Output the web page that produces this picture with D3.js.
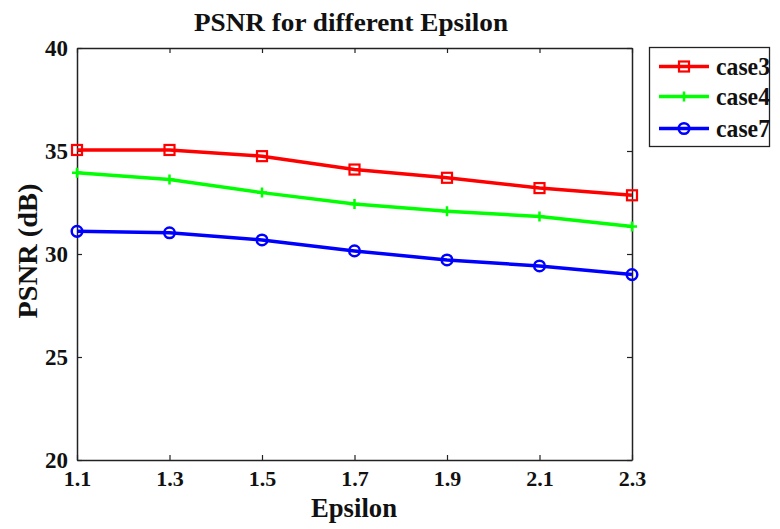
<!DOCTYPE html>
<html>
<head>
<meta charset="utf-8">
<script src="https://cdn.jsdelivr.net/npm/d3@7"></script>
<style>
  body { margin: 0; background: #fff; }
  text { font-family: "Liberation Serif", "Times New Roman", serif; font-weight: bold; fill: #111; }
</style>
</head>
<body>
<script>
// data
var epsilon = [1.1, 1.3, 1.5, 1.7, 1.9, 2.1, 2.3];
var case3 = [35.05, 35.05, 34.75, 34.1, 33.7, 33.2, 32.85];
var case4 = [33.95, 33.62, 32.98, 32.43, 32.08, 31.82, 31.33];
var case7 = [31.1, 31.03, 30.68, 30.15, 29.71, 29.42, 29.0];
var xTicks = [1.1, 1.3, 1.5, 1.7, 1.9, 2.1, 2.3];
var yTicks = [20, 25, 30, 35, 40];
var seriesNames = ["case3", "case4", "case7"];
var seriesColors = ["#ff0000", "#00ff00", "#0000ff"];
var seriesMarkers = ["square", "plus", "circle"];

var W = 780, H = 529;
var plotL = 77, plotR = 632, plotT = 48, plotB = 460;

var svg = d3.select("body").append("svg")
    .attr("width", W)
    .attr("height", H);

var x = d3.scaleLinear().domain([1.1, 2.3]).range([plotL, plotR]);
var y = d3.scaleLinear().domain([20, 40]).range([plotB, plotT]);

function styleAxis(g){
    g.select(".domain").attr("stroke", "#222").attr("stroke-width", 1.5);
    g.selectAll("line").attr("stroke", "#222").attr("stroke-width", 1.2);
}

// box + inside ticks (matlab style, mirrored)
svg.append("g")
    .attr("transform", "translate(0," + plotB + ")")
    .call(d3.axisBottom(x).tickValues(xTicks).tickSizeInner(-5).tickSizeOuter(0).tickPadding(10).tickFormat(d3.format(".1f")))
    .call(styleAxis)
    .call(function(g){ g.selectAll("text").style("font-size", "22px").attr("fill", "#111"); });
svg.append("g")
    .attr("transform", "translate(0," + plotT + ")")
    .call(d3.axisTop(x).tickValues(xTicks).tickSizeInner(-5).tickSizeOuter(0).tickFormat(""))
    .call(styleAxis);
svg.append("g")
    .attr("transform", "translate(" + plotL + ",0)")
    .call(d3.axisLeft(y).tickValues(yTicks).tickSizeInner(-5).tickSizeOuter(0).tickPadding(9))
    .call(styleAxis)
    .call(function(g){ g.selectAll("text").style("font-size", "23px").attr("fill", "#111"); });
svg.append("g")
    .attr("transform", "translate(" + plotR + ",0)")
    .call(d3.axisRight(y).tickValues(yTicks).tickSizeInner(-5).tickSizeOuter(0).tickFormat(""))
    .call(styleAxis);

function drawMarker(g, type, color){
    if(type == "square"){
        g.append("rect").attr("x", -5).attr("y", -5).attr("width", 10).attr("height", 10)
            .attr("fill", "none").attr("stroke", color).attr("stroke-width", 2.2);
    } else if(type == "plus"){
        g.append("path").attr("d", "M-5,0H5M0,-5V5")
            .attr("stroke", color).attr("stroke-width", 2.5);
    } else {
        g.append("circle").attr("r", 5.3)
            .attr("fill", "none").attr("stroke", color).attr("stroke-width", 2.5);
    }
}

var line = d3.line()
    .x(function(d){ return x(d[0]); })
    .y(function(d){ return y(d[1]); });

[case3, case4, case7].forEach(function(vals, i){
    var pts = epsilon.map(function(e, j){ return [e, vals[j]]; });
    svg.append("path")
        .datum(pts)
        .attr("d", line)
        .attr("fill", "none")
        .attr("stroke", seriesColors[i])
        .attr("stroke-width", 3.5)
        .attr("stroke-linejoin", "round");
    svg.selectAll(".m" + i)
        .data(pts)
        .enter().append("g")
            .attr("class", "m" + i)
            .attr("transform", function(d){ return "translate(" + x(d[0]) + "," + y(d[1]) + ")"; })
            .each(function(){ drawMarker(d3.select(this), seriesMarkers[i], seriesColors[i]); });
});

// title and axis labels
svg.append("text")
    .attr("x", 351).attr("y", 31)
    .attr("text-anchor", "middle")
    .attr("textLength", 314).attr("lengthAdjust", "spacingAndGlyphs")
    .style("font-size", "25px")
    .text("PSNR for different Epsilon");
svg.append("text")
    .attr("x", 354).attr("y", 517)
    .attr("text-anchor", "middle")
    .attr("textLength", 86).attr("lengthAdjust", "spacingAndGlyphs")
    .style("font-size", "27px")
    .text("Epsilon");
svg.append("text")
    .attr("transform", "translate(37,251) rotate(-90)")
    .attr("text-anchor", "middle")
    .attr("textLength", 135).attr("lengthAdjust", "spacingAndGlyphs")
    .style("font-size", "28px")
    .text("PSNR (dB)");

// legend
var legend = svg.append("g");
legend.append("rect")
    .attr("x", 649.5).attr("y", 47.5).attr("width", 120).attr("height", 99)
    .attr("fill", "#fff").attr("stroke", "#222").attr("stroke-width", 1.3);
var rowY = [66.5, 96.5, 128.5];
seriesNames.forEach(function(name, i){
    var row = legend.append("g").attr("transform", "translate(0," + rowY[i] + ")");
    row.append("line").attr("x1", 659).attr("x2", 709)
        .attr("stroke", seriesColors[i]).attr("stroke-width", 3.5);
    drawMarker(row.append("g").attr("transform", "translate(684,0)"), seriesMarkers[i], seriesColors[i]);
    row.append("text").attr("x", 716).attr("y", 8.5)
        .attr("textLength", 54).attr("lengthAdjust", "spacingAndGlyphs")
        .style("font-size", "25px")
        .text(name);
});
</script>
</body>
</html>
